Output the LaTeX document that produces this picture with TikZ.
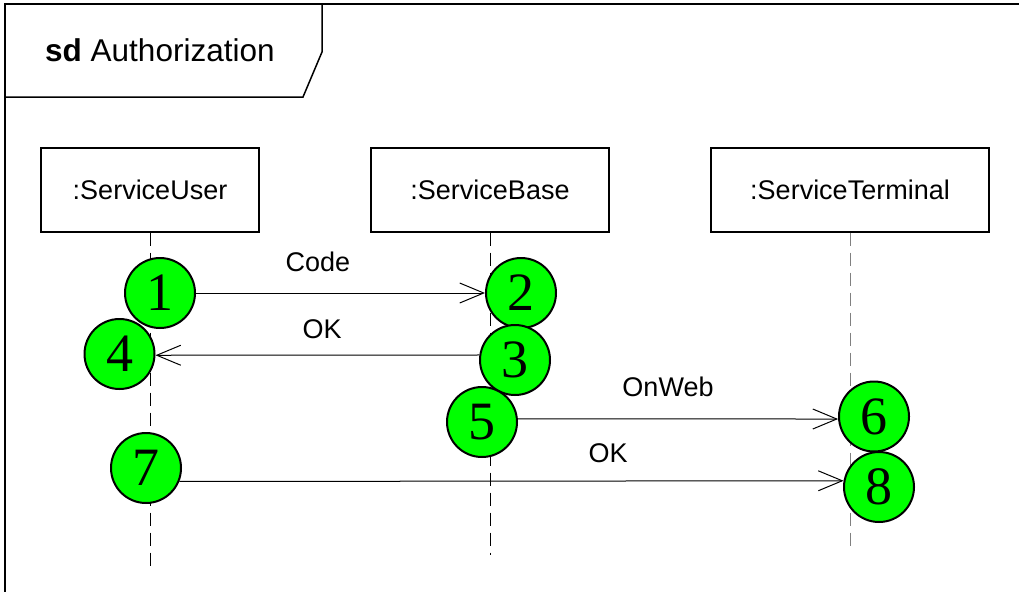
\documentclass[tikz,border=0pt]{standalone}
\usepackage{fontspec}
\setmainfont{Liberation Sans}
\newfontfamily\numfont{Liberation Serif}
\usetikzlibrary{arrows.meta}

\begin{document}
\begin{tikzpicture}[x=1pt,y=-1pt,
  lifebox/.style={draw,line width=1.2pt,minimum height=84pt,inner sep=0pt,font=\fontsize{27}{32}\selectfont},
  lifeline/.style={line width=1pt,dash pattern=on 13pt off 7pt},
  stepmark/.style={circle,draw,line width=2pt,fill=green,minimum size=70pt,inner sep=0pt,font=\numfont\fontsize{54}{54}\selectfont},
  msg/.style={line width=1pt,-{Straight Barb[length=24pt,width=20pt]}},
  msglabel/.style={inner sep=0pt,font=\fontsize{27}{32}\selectfont}]
\useasboundingbox (0,0) rectangle (1019,592);

% Frame and header
\draw[line width=2pt] (1019,4) -- (5,4) -- (5,592); % outer frame
\draw[line width=1.5pt] (5,97) -- (303,97) -- (322,52) -- (322,4); % header tab
\node[anchor=base west,inner sep=0pt,font=\fontsize{31.5}{36}\selectfont] (title) at (45,61) {\textbf{sd} Authorization};

% Lifeline heads
\node[lifebox,minimum width=218pt] (user) at (150,190) {:ServiceUser};
\node[lifebox,minimum width=238pt] (base) at (490,190) {:ServiceBase};
\node[lifebox,minimum width=278pt] (terminal) at (850,190) {:ServiceTerminal};

% Lifelines
\coordinate (userend) at (150,568);
\coordinate (baseend) at (490,555);
\coordinate (terminalend) at (850,550);
\draw[lifeline] (user.south) -- (userend);
\draw[lifeline] (base.south) -- (baseend);
\draw[lifeline,gray] (terminal.south) -- (terminalend);

% Numbered steps
\node[stepmark] (c1) at (160,293) {1};
\node[stepmark] (c2) at (521,293) {2};
\node[stepmark] (c3) at (515,360) {3};
\node[stepmark] (c4) at (119.5,354) {4};
\node[stepmark] (c5) at (482,422) {5};
\node[stepmark] (c6) at (874,416.5) {6};
\node[stepmark] (c7) at (146,468) {7};
\node[stepmark] (c8) at (879,487) {8};

% Messages
\draw[msg] (c1.east) -- (c2.west); % Code
\draw[msg] (c3.172) -- (c4.358); % OK
\draw[msg] (c5.5) -- (c6.184); % OnWeb
\draw[msg] (c7.338) -- (c8.170); % OK

% Labels
\node[msglabel] (codelabel) at (318,262) {Code};
\node[msglabel] (oklabel) at (322,329) {OK};
\node[msglabel] (onweblabel) at (668,387) {OnWeb};
\node[msglabel] (oklabeltwo) at (608,453) {OK};

\end{tikzpicture}
\end{document}
